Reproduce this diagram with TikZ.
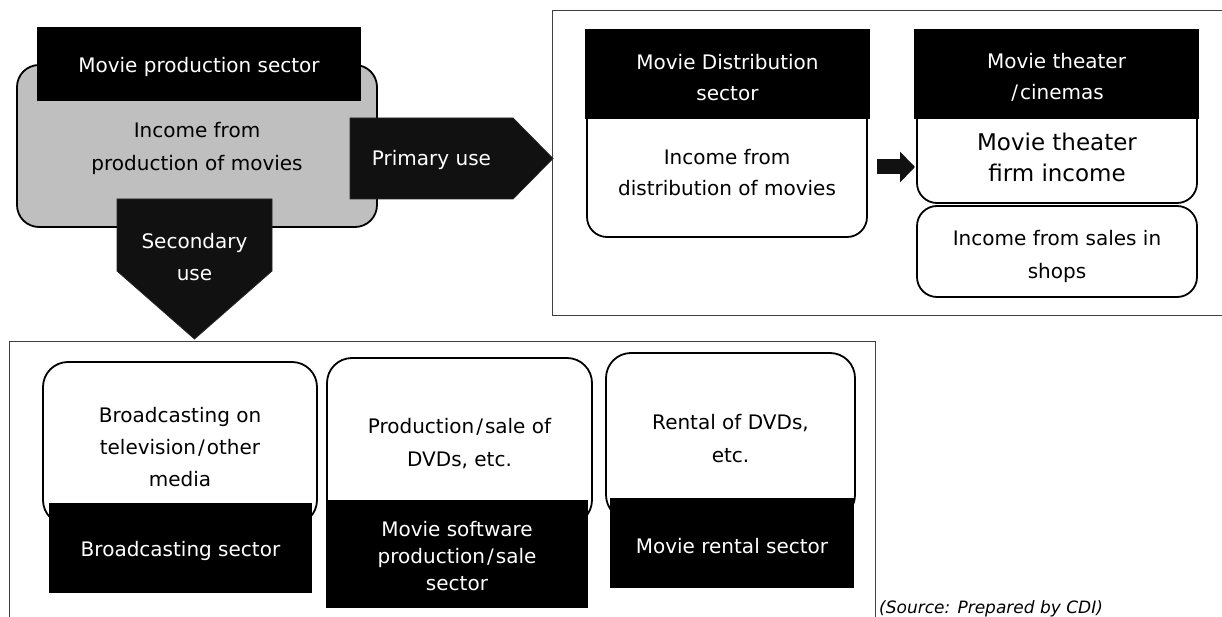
\documentclass[tikz,border=0pt]{standalone}
\usepackage{fontspec}
\setmainfont{DejaVu Sans}
\usetikzlibrary{arrows.meta}
\definecolor{prodgray}{RGB}{191,191,191}
\definecolor{arrowfill}{RGB}{17,17,17}
\definecolor{framegray}{RGB}{64,64,64}
\newcommand\fsz[2]{\fontsize{#1}{#2}\selectfont}
\newcommand\slsh{\kern2pt/\kern2pt}
\begin{document}
\begin{tikzpicture}[x=1pt,y=-1pt,
  frame/.style={draw=framegray, line width=1pt},
  card/.style={draw=black, line width=1.8pt, fill=white, rounded corners=20pt, inner sep=0pt},
  hdr/.style={fill=black, inner sep=0pt},
  wtxt/.style={text=white, align=center, inner sep=0pt, font=\fsz{20}{31}},
  btxt/.style={text=black, align=center, inner sep=0pt, font=\fsz{20}{33}},
  blockarrow/.style={fill=arrowfill, draw=black!85, line width=0.8pt, line join=miter},
  smallarrow/.style={draw=arrowfill, line width=15pt, -{Triangle[length=15pt,width=30pt]}}]
\useasboundingbox (0,0) rectangle (1222,617);
\clip (0,0) rectangle (1222,617);

% outer frames of the two stages
\draw[frame] (1240,11) -- (552,11) -- (552,315) -- (1240,315);
\draw[frame] (9,640) -- (9,341) -- (875,341) -- (875,640);

% movie production sector
\node[card, fill=prodgray, rounded corners=22pt, minimum width=360pt, minimum height=162pt] (prodbox) at (197,146) {};
\node[hdr, minimum width=324pt, minimum height=74pt] (prodhdr) at (199,64) {};
\node[wtxt] (prodhdrT) at (199,67) {Movie production sector};
\node[btxt] (prodT) at (197,148.5) {Income from\\production of movies};

% primary use block arrow
\draw[blockarrow] (350,118) -- (513,118) -- (553,158.5) -- (513,199) -- (350,199) -- cycle;
\node[wtxt] (primT) at (431.5,160) {Primary use};

% secondary use block arrow
\draw[blockarrow] (117,199) -- (272,199) -- (272,271) -- (194.5,339) -- (117,271) -- cycle;
\node[wtxt, font=\fsz{20}{32}] (secT) at (194.5,257) {Secondary\\use};

% distribution sector
\node[card, minimum width=280pt, minimum height=137pt] (distbox) at (727,168.5) {};
\node[hdr, minimum width=285pt, minimum height=90pt] (disthdr) at (727.5,74) {};
\node[wtxt] (disthdrT) at (727.5,77.5) {Movie Distribution\\sector};
\node[btxt, font=\fsz{20}{31}] (distT) at (727,172.5) {Income from\\distribution of movies};

% movie theaters
\node[card, minimum width=280pt, minimum height=103pt] (firmbox) at (1057,151.5) {};
\node[card, minimum width=280pt, minimum height=91pt] (shopbox) at (1057,251.5) {};
\node[hdr, minimum width=285pt, minimum height=90pt] (thhdr) at (1056.5,74) {};
\node[wtxt] (thhdrT) at (1056.5,77.5) {Movie theater\\\slsh cinemas};
\node[btxt, font=\fsz{23}{31}] (firmT) at (1057,157.5) {Movie theater\\firm income};
\node[btxt] (shopT) at (1057,256.5) {Income from sales in\\shops};

% flow from distribution to theaters
\coordinate (sa0) at (877,167);
\coordinate (sa1) at (915,167);
\draw[smallarrow] (sa0) -- (sa1);

% secondary use: broadcasting
\node[card, rounded corners=25pt, minimum width=274pt, minimum height=163pt] (bcbox) at (180,443.5) {};
\node[hdr, minimum width=263pt, minimum height=90pt] (bchdr) at (180.5,548) {};
\node[btxt, font=\fsz{20}{32}] (bcT) at (180,447) {Broadcasting on\\television\slsh other\\media};
\node[wtxt] (bchdrT) at (180.5,551) {Broadcasting sector};

% secondary use: software production and sale
\node[card, rounded corners=25pt, minimum width=265pt, minimum height=167pt] (swbox) at (459.5,441.5) {};
\node[hdr, minimum width=262pt, minimum height=108pt] (swhdr) at (457,554) {};
\node[btxt, font=\fsz{20}{33}] (swT) at (459.5,443.5) {Production\slsh sale of\\DVDs, etc.};
\node[wtxt, font=\fsz{20}{27}] (swhdrT) at (457,556) {Movie software\\production\slsh sale\\sector};

% secondary use: rental
\node[card, rounded corners=25pt, minimum width=249pt, minimum height=167pt] (rtbox) at (730.5,436.5) {};
\node[hdr, minimum width=244pt, minimum height=90pt] (rthdr) at (732,543) {};
\node[btxt] (rtT) at (730.5,438.5) {Rental of DVDs,\\etc.};
\node[wtxt] (rthdrT) at (732,546) {Movie rental sector};

% source note at the foot of the page
\node[anchor=base west, inner sep=0pt, font=\fsz{17}{22}\itshape] (src) at (879,613) {(Source: Prepared by CDI)};
\end{tikzpicture}
\end{document}
